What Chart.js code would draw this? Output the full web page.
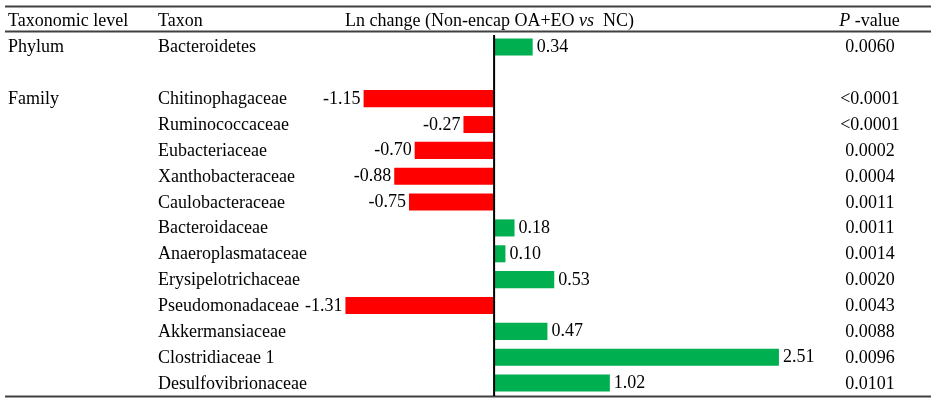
<!DOCTYPE html>
<html>
<head>
<meta charset="utf-8">
<script src="https://cdn.jsdelivr.net/npm/chart.js@4"></script>
<style>
    html, body { margin: 0; padding: 0; background: #fff; }
    #chart { display: block; }
</style>
</head>
<body>
<canvas id="chart" width="938" height="404"></canvas>
<script>
const taxa = ['Bacteroidetes', '', 'Chitinophagaceae', 'Ruminococcaceae', 'Eubacteriaceae',
    'Xanthobacteraceae', 'Caulobacteraceae', 'Bacteroidaceae', 'Anaeroplasmataceae',
    'Erysipelotrichaceae', 'Pseudomonadaceae', 'Akkermansiaceae', 'Clostridiaceae 1',
    'Desulfovibrionaceae'];
const levels = ['Phylum', '', 'Family', '', '', '', '', '', '', '', '', '', '', ''];
const lnChange = [0.34, null, -1.15, -0.27, -0.70, -0.88, -0.75, 0.18, 0.10, 0.53, -1.31, 0.47, 2.51, 1.02];
const pValues = ['0.0060', '', '<0.0001', '<0.0001', '0.0002', '0.0004', '0.0011', '0.0011',
    '0.0014', '0.0020', '0.0043', '0.0088', '0.0096', '0.0101'];

const FONT = '18px "Liberation Serif", "Times New Roman", serif';
const ITALIC = 'italic 18px "Liberation Serif", "Times New Roman", serif';

// draws the table around the bars: rules, headers, text columns, value labels
const tablePlugin = {
    id: 'table',
    afterDatasetsDraw(chart) {
        const { ctx, scales: { x, y } } = chart;
        const zero = x.getPixelForValue(0);
        ctx.save();

        // horizontal rules
        ctx.strokeStyle = '#404040';
        ctx.lineWidth = 2;
        [6.5, 31.5, 396.5].forEach(yy => {
            ctx.beginPath();
            ctx.moveTo(5, yy);
            ctx.lineTo(931, yy);
            ctx.stroke();
        });

        // zero axis
        ctx.strokeStyle = '#000';
        ctx.beginPath();
        ctx.moveTo(zero, 35);
        ctx.lineTo(zero, 396);
        ctx.stroke();

        ctx.fillStyle = '#000';
        ctx.textBaseline = 'alphabetic';

        // header
        ctx.font = FONT;
        ctx.textAlign = 'left';
        ctx.fillText('Taxonomic level', 8, 26);
        ctx.fillText('Taxon', 158, 26);

        const p1 = 'Ln change (Non-encap OA+EO ', p2 = 'vs', p3 = '  NC)';
        ctx.font = FONT;
        const w1 = ctx.measureText(p1).width, w3 = ctx.measureText(p3).width;
        ctx.font = ITALIC;
        const w2 = ctx.measureText(p2).width;
        let hx = 489.5 - (w1 + w2 + w3) / 2;
        ctx.font = FONT;
        ctx.fillText(p1, hx, 26);
        ctx.font = ITALIC;
        ctx.fillText(p2, hx + w1, 26);
        ctx.font = FONT;
        ctx.fillText(p3, hx + w1 + w2, 26);

        ctx.font = ITALIC;
        const wp = ctx.measureText('P').width;
        ctx.font = FONT;
        const wv = ctx.measureText(' -value').width;
        const px = 869.5 - (wp + wv) / 2;
        ctx.font = ITALIC;
        ctx.fillText('P', px, 26);
        ctx.font = FONT;
        ctx.fillText(' -value', px + wp, 26);

        // rows
        taxa.forEach((t, i) => {
            const cy = y.getPixelForValue(i);
            ctx.textAlign = 'left';
            if (levels[i]) ctx.fillText(levels[i], 8, cy + 5.5);
            if (t) ctx.fillText(t, 158, cy + 5.5);
            ctx.textAlign = 'center';
            if (pValues[i]) ctx.fillText(pValues[i], 870, cy + 5.5);

            const v = lnChange[i];
            if (v === null) return;
            const bx = x.getPixelForValue(v);
            if (v >= 0) {
                ctx.textAlign = 'left';
                ctx.fillText(v.toFixed(2), bx + 4, cy + 5);
            } else {
                ctx.textAlign = 'right';
                ctx.fillText(v.toFixed(2), bx - 3, cy + 5);
            }
        });
        ctx.restore();
    }
};

const ctx = document.getElementById('chart').getContext('2d');

new Chart(ctx, {
    type: 'bar',
    data: {
        labels: taxa,
        datasets: [{
            data: lnChange,
            backgroundColor: lnChange.map(v => v < 0 ? '#FF0000' : '#00B050'),
            borderWidth: 0,
            barPercentage: 0.66,
            categoryPercentage: 1
        }]
    },
    options: {
        indexAxis: 'y',
        responsive: false,
        animation: false,
        layout: {
            padding: { left: 5, right: 7, top: 34, bottom: 8 }
        },
        scales: {
            x: {
                display: false,
                min: -4.31,
                max: 3.85,
                bounds: 'data',
                grid: { display: false }
            },
            y: {
                display: false,
                grid: { display: false }
            }
        },
        plugins: {
            legend: { display: false },
            tooltip: { enabled: false }
        }
    },
    plugins: [tablePlugin]
});
</script>
</body>
</html>
